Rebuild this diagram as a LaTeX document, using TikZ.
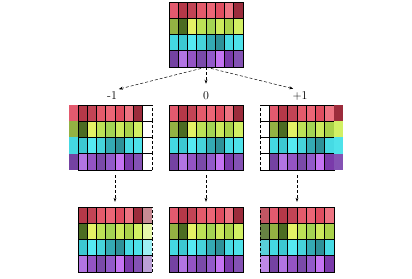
\documentclass[tikz,border=0pt]{standalone}
\usetikzlibrary{arrows.meta}
\definecolor{c11}{HTML}{E35A6E}\definecolor{c12}{HTML}{B53848}\definecolor{c13}{HTML}{C24455}\definecolor{c14}{HTML}{E45B6B}
\definecolor{c15}{HTML}{EC6676}\definecolor{c16}{HTML}{E04E60}\definecolor{c17}{HTML}{EE7482}\definecolor{c18}{HTML}{9C2C3C}
\definecolor{c21}{HTML}{93B243}\definecolor{c22}{HTML}{4C6C22}\definecolor{c23}{HTML}{E4F266}\definecolor{c24}{HTML}{BCE257}
\definecolor{c25}{HTML}{A4D454}\definecolor{c26}{HTML}{CCEA5C}\definecolor{c27}{HTML}{AAD24A}\definecolor{c28}{HTML}{D2F064}
\definecolor{c31}{HTML}{44D8E2}\definecolor{c32}{HTML}{3CC8D2}\definecolor{c33}{HTML}{56EAF2}\definecolor{c34}{HTML}{46D4DC}
\definecolor{c35}{HTML}{34AAB4}\definecolor{c36}{HTML}{2E9098}\definecolor{c37}{HTML}{46DAE4}\definecolor{c38}{HTML}{4EE2EA}
\definecolor{c41}{HTML}{7442A2}\definecolor{c42}{HTML}{B274E2}\definecolor{c43}{HTML}{9454C4}\definecolor{c44}{HTML}{7A4AAA}
\definecolor{c45}{HTML}{925ACA}\definecolor{c46}{HTML}{C474F2}\definecolor{c47}{HTML}{7A3AAA}\definecolor{c48}{HTML}{8452B4}
\begin{document}
\begin{tikzpicture}[x=1bp,y=1bp,
  cell/.style={draw=black,line width=0.6bp},
  gridbox/.style={minimum width=74bp,minimum height=65bp,inner sep=0pt},
  shiftlabel/.style={font=\large,inner sep=1bp},
  flow/.style={densely dashed,line width=0.5bp,-{Stealth[length=4bp,width=3bp]}}]
\useasboundingbox (0,0) rectangle (412,279);
\def\cellw{9.25}
\def\cellh{16.25}
% grid name / left / top / shift / padded
\foreach \g/\gx/\gy/\sh/\pad in {top/169/277/0/0, m1/78/174/-1/0, m0/169/174/0/0, p1/260/174/1/0,
                                  bm1/78/72/-1/1, b0/169/72/0/1, bp1/260/72/1/1} {
  \node[gridbox] (\g) at (\gx+37,\gy-32.5) {};
  \foreach \c in {0,...,9} {
    \pgfmathtruncatemacro{\src}{\c-\sh}
    \pgfmathsetmacro{\xl}{\gx+(\c-1)*\cellw}
    \foreach \r in {1,...,4} {
      \pgfmathsetmacro{\yb}{\gy-\r*\cellh}
      \ifnum\c=0
        \ifnum\sh=-1 \ifnum\pad=0 \fill[c\r\src] (\xl,\yb) rectangle ++(\cellw,\cellh); \fi\fi
      \else\ifnum\c=9
        \ifnum\sh=1 \ifnum\pad=0 \fill[c\r\src] (\xl,\yb) rectangle ++(\cellw,\cellh); \fi\fi
      \else\ifnum\src<1
        \ifnum\pad=1 \fill[c\r2!85!white] (\xl,\yb) rectangle ++(\cellw,\cellh); \fi
        \draw[cell] (\xl,\yb) -- ++(\cellw,0) -- ++(0,\cellh) -- ++(-\cellw,0);
        \draw[cell,densely dashed] (\xl,\yb) -- ++(0,\cellh);
      \else\ifnum\src>8
        \ifnum\pad=1 \fill[c\r8!55!white] (\xl,\yb) rectangle ++(\cellw,\cellh); \fi
        \draw[cell] (\xl+\cellw,\yb) -- ++(-\cellw,0) -- ++(0,\cellh) -- ++(\cellw,0);
        \draw[cell,densely dashed] (\xl+\cellw,\yb) -- ++(0,\cellh);
      \else
        \draw[cell,fill=c\r\src] (\xl,\yb) rectangle ++(\cellw,\cellh);
      \fi\fi\fi\fi
    }
  }
}
\node[shiftlabel] (lm1) at (112,183) {-1};
\node[shiftlabel] (l0) at (206,183) {0};
\node[shiftlabel] (lp1) at (300,183) {+1};
\foreach \l in {lm1,l0,lp1}
  \draw[flow,shorten >=7bp] (top.south) -- (\l.north);
\draw[flow,shorten <=5bp,shorten >=5bp] (m1.south) -- (bm1.north);
\draw[flow,shorten <=5bp,shorten >=5bp] (m0.south) -- (b0.north);
\draw[flow,shorten <=5bp,shorten >=5bp] (p1.south) -- (bp1.north);
\end{tikzpicture}
\end{document}
